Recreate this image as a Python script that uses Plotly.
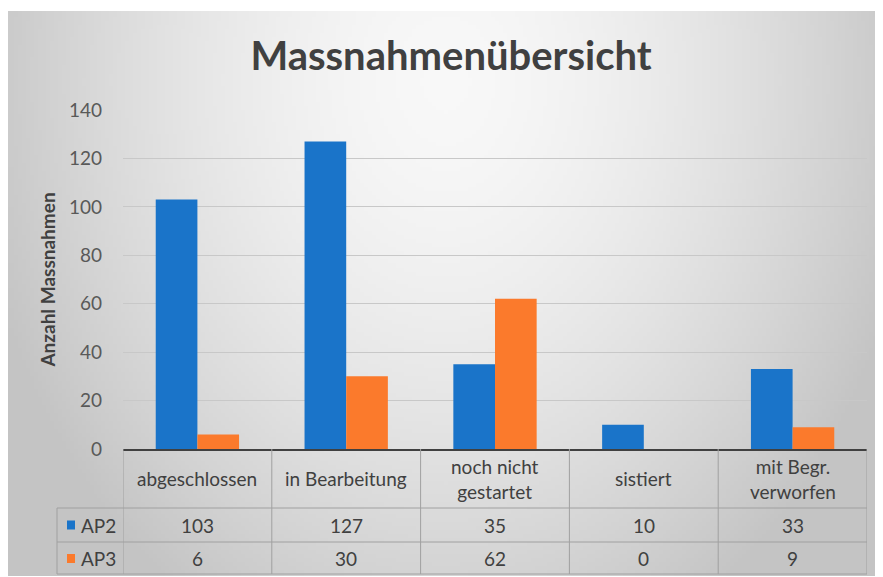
import base64
import math
import struct
import zlib

import plotly.graph_objects as go

# ---------------- data ----------------
categories = ["abgeschlossen", "in Bearbeitung", "noch nicht gestartet", "sistiert", "mit Begr. verworfen"]
category_labels = ["abgeschlossen", "in Bearbeitung", "noch nicht<br>gestartet", "sistiert", "mit Begr.<br>verworfen"]
ap2_values = [103, 127, 35, 10, 33]
ap3_values = [6, 30, 62, 0, 9]
series_names = ["AP2", "AP3"]
y_ticks = [0, 20, 40, 60, 80, 100, 120, 140]

BLUE = "#1a74c9"
ORANGE = "#fb7a2c"
TEXT = "#404040"
TICK = "#595959"
LINE = "#a0a0a0"
FONT = "Lato"

OFF = 8  # page body margin
W, H = 883 - OFF, 577 - OFF
ML, MR = 123 - OFF, 883 - 867
MT = 110 - OFF
MB = H - (449 - OFF)
PW = W - ML - MR
PH = H - MT - MB


def px_x(px):
    """page x pixel -> paper x"""
    return (px - OFF - ML) / PW


def px_y(py):
    """page y pixel -> paper y"""
    return (H - MB - (py - OFF)) / PH


# ---------------- background gradient (pure python PNG) ----------------
def gradient_png(w, h):
    rows = []
    for j in range(h):
        row = bytearray([0])
        for i in range(w):
            u = (i / (w - 1) - 0.5) / 0.55
            v = (j / (h - 1) - 0.12) / 1.1
            d = min(1.0, math.sqrt(u * u + v * v))
            c = int(round(248 - 52 * d ** 1.6))
            row += bytes([c, c, c])
        rows.append(bytes(row))
    raw = b"".join(rows)

    def chunk(tag, data):
        c = struct.pack(">I", len(data)) + tag + data
        return c + struct.pack(">I", zlib.crc32(tag + data) & 0xFFFFFFFF)

    png = b"\x89PNG\r\n\x1a\n"
    png += chunk(b"IHDR", struct.pack(">IIBBBBB", w, h, 8, 2, 0, 0, 0))
    png += chunk(b"IDAT", zlib.compress(raw, 9))
    png += chunk(b"IEND", b"")
    return "data:image/png;base64," + base64.b64encode(png).decode()


bg_src = gradient_png(220, 140)

fig = go.Figure()
fig.add_trace(go.Bar(x=categories, y=ap2_values, name=series_names[0], marker_color=BLUE,
                     marker_line_width=0))
fig.add_trace(go.Bar(x=categories, y=ap3_values, name=series_names[1], marker_color=ORANGE,
                     marker_line_width=0))

shapes = []
annotations = []

# table: vertical lines at category boundaries
for k in range(len(categories) + 1):
    shapes.append(dict(type="line", xref="x", yref="paper", x0=k - 0.5, x1=k - 0.5,
                       y0=0, y1=px_y(574), line=dict(color=LINE, width=1), layer="above"))
# left label column vertical
shapes.append(dict(type="line", xref="paper", yref="paper", x0=px_x(57), x1=px_x(57),
                   y0=px_y(508), y1=px_y(574), line=dict(color=LINE, width=1)))
# horizontal lines
for py in (508, 542, 574):
    shapes.append(dict(type="line", xref="paper", yref="paper", x0=px_x(57), x1=1,
                       y0=px_y(py), y1=px_y(py), line=dict(color=LINE, width=1)))

# category labels
for cat, lab in zip(categories, category_labels):
    annotations.append(dict(x=cat, y=px_y(478.5), xref="x", yref="paper", text=lab,
                            showarrow=False, font=dict(family=FONT, size=19, color=TEXT),
                            xanchor="center", yanchor="middle"))
# value rows
row_centers = [525, 558.5]
for vals, rc in zip([ap2_values, ap3_values], row_centers):
    for cat, v in zip(categories, vals):
        annotations.append(dict(x=cat, y=px_y(rc), xref="x", yref="paper", text=str(v),
                                showarrow=False, font=dict(family=FONT, size=19, color=TEXT),
                                xanchor="center", yanchor="middle"))
# legend keys
for name, col, rc in zip(series_names, [BLUE, ORANGE], row_centers):
    shapes.append(dict(type="rect", xref="paper", yref="paper", x0=px_x(67), x1=px_x(75),
                       y0=px_y(rc + 4.5), y1=px_y(rc - 4.5), fillcolor=col, line=dict(width=0)))
    annotations.append(dict(x=px_x(79), y=px_y(rc), xref="paper", yref="paper", text=name,
                            showarrow=False, font=dict(family=FONT, size=19, color=TEXT),
                            xanchor="left", yanchor="middle"))

fig.update_layout(
    width=W, height=H,
    margin=dict(l=ML, r=MR, t=MT, b=MB, pad=0),
    paper_bgcolor="white",
    plot_bgcolor="rgba(0,0,0,0)",
    showlegend=False,
    barmode="group",
    bargap=0.44,
    bargroupgap=0,
    title=dict(text="<b>Massnahmenübersicht</b>", x=(451 - OFF) / W, xref="container",
               xanchor="center", y=1 - (56 - OFF) / H, yref="container", yanchor="middle",
               font=dict(family=FONT, size=40, color=TEXT)),
    xaxis=dict(range=[-0.5, len(categories) - 0.5], showticklabels=False, showgrid=False,
               showline=True, linecolor="#404040", linewidth=1.5, ticks="", zeroline=False),
    yaxis=dict(range=[0, 140], tickvals=y_ticks, showgrid=True, gridcolor="#c8c8c8", gridwidth=1,
               zeroline=False, showline=False, ticks="", ticklabelstandoff=20,
               tickfont=dict(family=FONT, size=19, color=TICK),
               title=dict(text="<b>Anzahl Massnahmen</b>", standoff=8,
                          font=dict(family=FONT, size=19, color=TEXT))),
    shapes=shapes,
    annotations=annotations,
    images=[dict(source=bg_src, xref="paper", yref="paper", x=px_x(8), y=px_y(11),
                 sizex=px_x(883) - px_x(8), sizey=px_y(11) - px_y(576),
                 xanchor="left", yanchor="top", sizing="stretch", layer="below")],
)

fig.write_html("out.html")
